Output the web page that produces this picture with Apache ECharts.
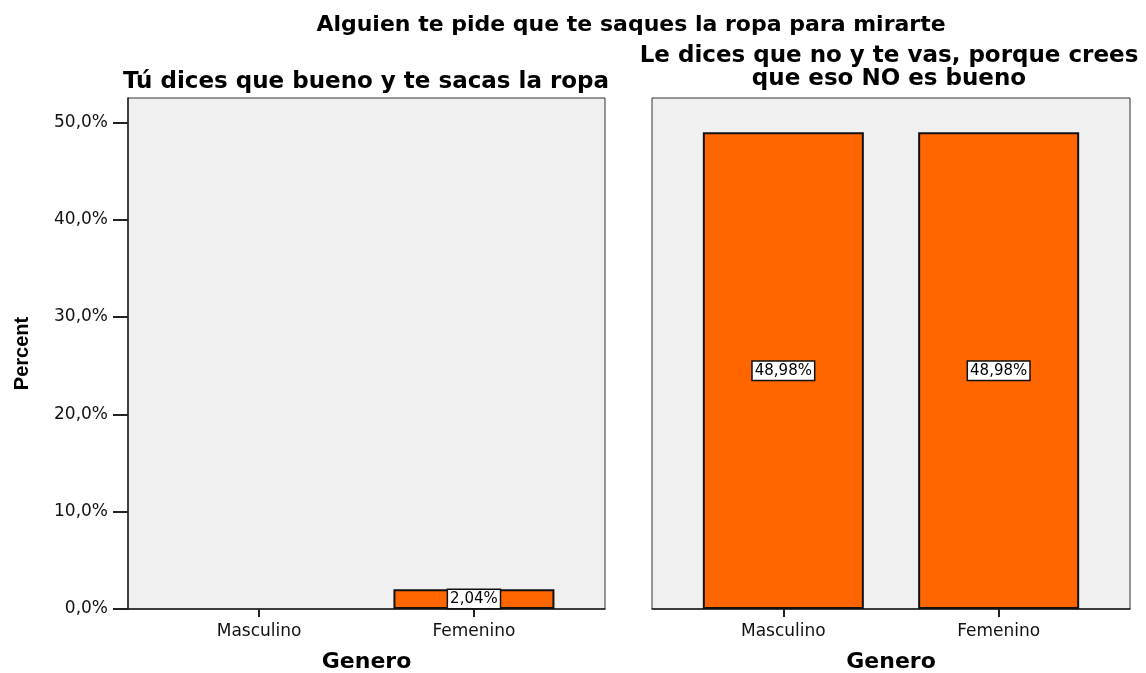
<!DOCTYPE html>
<html>
<head>
<meta charset="utf-8">
<script src="https://cdn.jsdelivr.net/npm/echarts@6/dist/echarts.min.js"></script>
<style>
  html, body { margin: 0; padding: 0; background: #fff; }
  #chart { width: 1146px; height: 673px; }
</style>
</head>
<body>
<div id="chart"></div>
<script>
// ---- data ----
const categories = ["Masculino", "Femenino"];
const yTicks = [0, 10, 20, 30, 40, 50];
const panelTitles = [
  "Tú dices que bueno y te sacas la ropa",
  "Le dices que no y te vas, porque crees\nque eso NO es bueno",
];
const siValues = [0, 2.04];
const noValues = [48.98, 48.98];

(function () {
  const dom = document.getElementById("chart");
  const chart = echarts.init(dom, null, { renderer: "canvas" });

  // wide face, the reference text is stretched horizontally
  const FONT = "DejaVu Sans, Verdana, sans-serif";
  const pct = (v, d) => v.toFixed(d).replace(".", ",") + "%";

  const grids = [
    { left: 128, top: 98, width: 477, height: 511 },
    { left: 652, top: 98, width: 478, height: 511 },
  ].map((g) => ({
    ...g,
    show: true,
    outerBoundsMode: "none",
    containLabel: false,
    backgroundColor: "#f0f0f0",
    borderColor: "#333",
    borderWidth: 1,
  }));

  function xAxis(i) {
    return {
      type: "value",
      gridIndex: i,
      min: -0.61,
      max: 1.61,
      splitLine: { show: false },
      axisLine: { show: true, lineStyle: { color: "#222", width: 1.5 } },
      axisTick: {
        show: true,
        customValues: [0, 1],
        length: 8,
        lineStyle: { color: "#222", width: 2 },
      },
      axisLabel: {
        customValues: [0, 1],
        formatter: (v) => categories[Math.round(v)],
        color: "#111",
        fontFamily: FONT,
        fontSize: 17,
        margin: 14,
      },
      name: "Genero",
      nameLocation: "middle",
      nameGap: 42,
      nameTextStyle: { fontFamily: FONT, fontWeight: "bold", fontSize: 22, color: "#000" },
    };
  }

  function yAxis(i) {
    const first = i === 0;
    return {
      type: "value",
      gridIndex: i,
      min: 0,
      max: 52.5,
      splitLine: { show: false },
      axisLine: { show: first, onZero: false, lineStyle: { color: "#222", width: 1.5 } },
      axisTick: {
        show: first,
        customValues: yTicks,
        length: 15,
        lineStyle: { color: "#222", width: 2 },
      },
      axisLabel: {
        show: first,
        customValues: yTicks,
        formatter: (v) => pct(v, 1),
        color: "#111",
        fontFamily: FONT,
        fontSize: 17,
        margin: 20,
      },
      name: first ? "Percent" : "",
      nameLocation: "middle",
      nameGap: 96,
      nameTextStyle: {
        fontFamily: "Liberation Sans Narrow, Arial Narrow, Liberation Sans, sans-serif",
        fontWeight: "bold",
        fontSize: 20,
        color: "#000",
      },
    };
  }

  function barSeries(i, values) {
    return {
      type: "bar",
      xAxisIndex: i,
      yAxisIndex: i,
      barWidth: 161,
      data: values.map((v, k) => [k, v > 0 ? v : "-"]),
      itemStyle: { color: "#ff6600", borderColor: "#111", borderWidth: 2 },
      label: {
        show: true,
        position: "inside",
        formatter: (p) => pct(p.value[1], 2),
        color: "#000",
        fontFamily: FONT,
        fontSize: 15,
        lineHeight: 17,
        backgroundColor: "#fff",
        borderColor: "#111",
        borderWidth: 1.5,
        padding: [1, 2, 0, 2],
      },
    };
  }

  const titleStyle = { fontFamily: FONT, fontWeight: "bold", fontSize: 22, color: "#000", lineHeight: 23 };
  const subStyle = { ...titleStyle, fontSize: 23 };

  chart.setOption({
    animation: false,
    backgroundColor: "#fff",
    title: [
      {
        text: "Alguien te pide que te saques la ropa para mirarte",
        left: 631,
        top: 14,
        padding: 0,
        textAlign: "center",
        textStyle: titleStyle,
      },
      { text: panelTitles[0], left: 366, top: 71, padding: 0, textAlign: "center", textStyle: subStyle },
      {
        text: panelTitles[1],
        left: 889,
        top: 45,
        padding: 0,
        textAlign: "center",
        textStyle: { ...subStyle, lineHeight: 23 },
      },
    ],
    grid: grids,
    xAxis: [xAxis(0), xAxis(1)],
    yAxis: [yAxis(0), yAxis(1)],
    series: [barSeries(0, siValues), barSeries(1, noValues)],
  });
})();
</script>
</body>
</html>
